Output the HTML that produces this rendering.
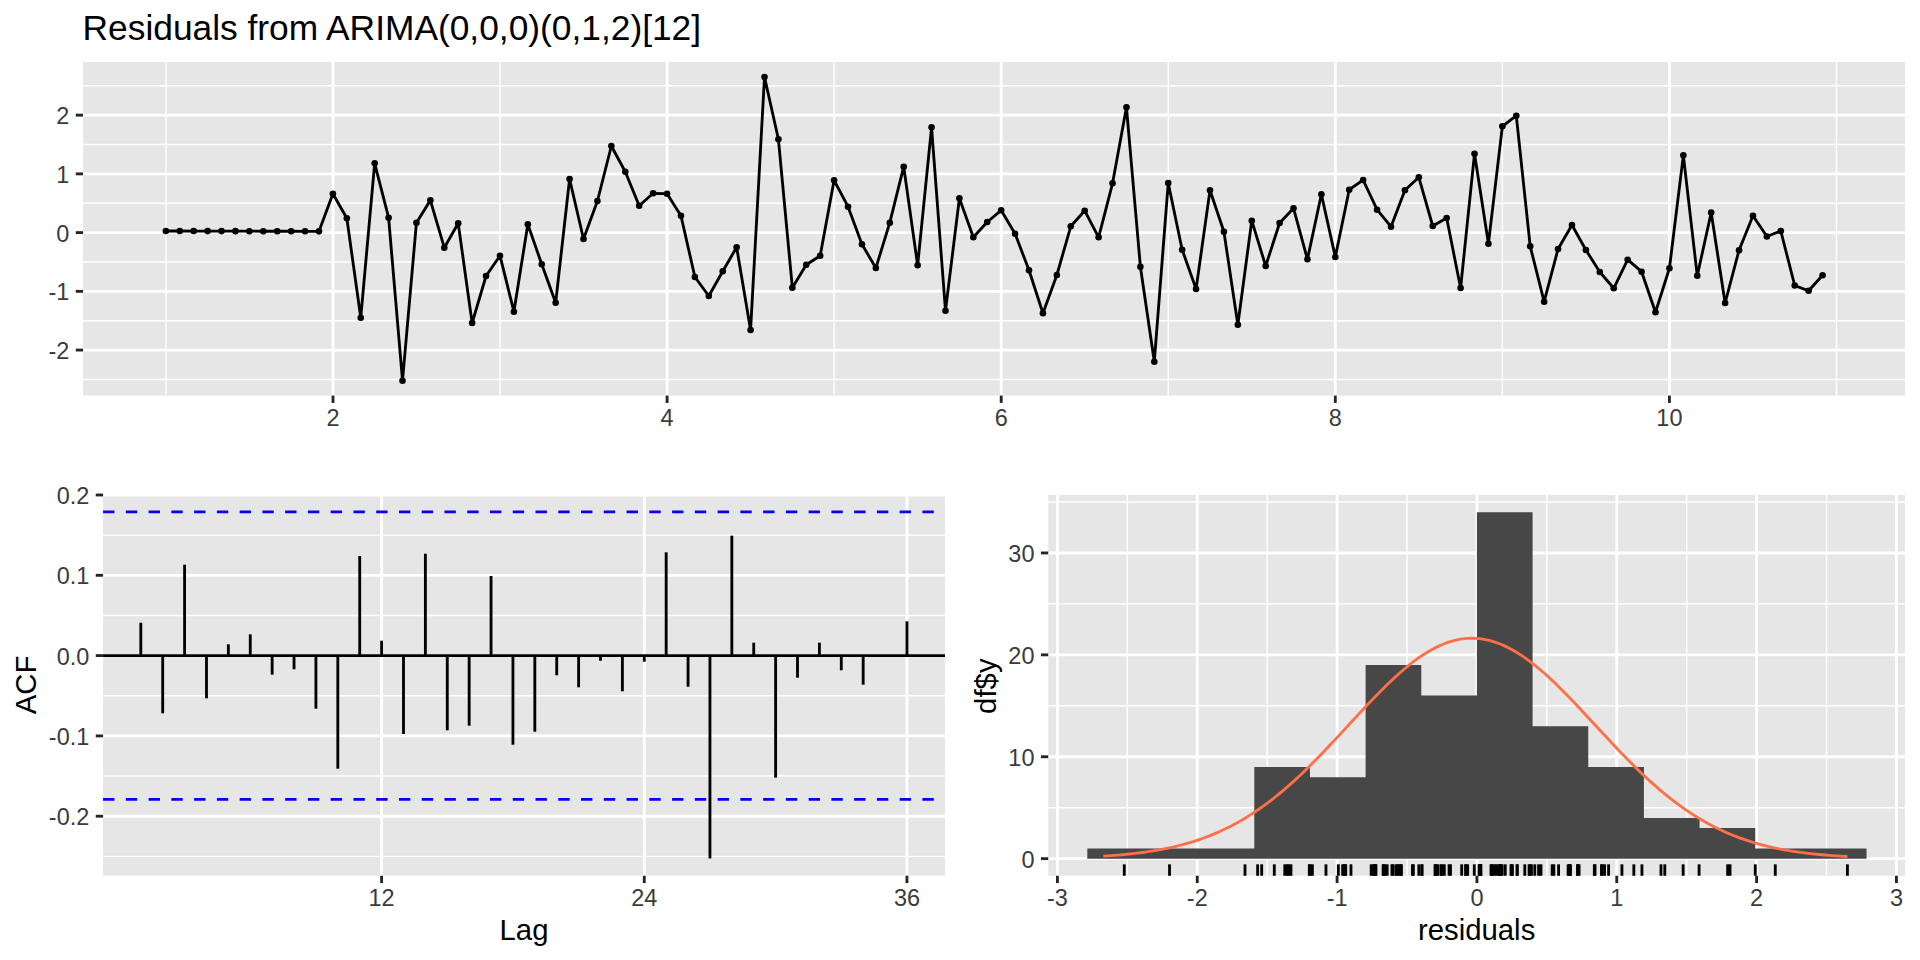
<!DOCTYPE html>
<html lang="en"><head><meta charset="utf-8"><title>Residuals from ARIMA(0,0,0)(0,1,2)[12]</title>
<style>html,body{margin:0;padding:0;background:#fff;overflow:hidden}svg{display:block}text{font-family:"Liberation Sans", Arial, Helvetica, sans-serif;}</style>
</head><body>
<svg width="1920" height="960" viewBox="0 0 1920 960" font-family='"Liberation Sans", Arial, Helvetica, sans-serif'>
<rect width="1920" height="960" fill="#fff"/>
<text x="82.6" y="40.3" font-size="35.35" fill="#000">Residuals from ARIMA(0,0,0)(0,1,2)[12]</text>
<g>
<rect x="83.08" y="62.00" width="1821.92" height="333.60" fill="#E6E6E6"/>
<line x1="83.08" x2="1905.00" y1="379.42" y2="379.42" stroke="#fff" stroke-width="1.42"/>
<line x1="83.08" x2="1905.00" y1="320.69" y2="320.69" stroke="#fff" stroke-width="1.42"/>
<line x1="83.08" x2="1905.00" y1="261.96" y2="261.96" stroke="#fff" stroke-width="1.42"/>
<line x1="83.08" x2="1905.00" y1="203.23" y2="203.23" stroke="#fff" stroke-width="1.42"/>
<line x1="83.08" x2="1905.00" y1="144.50" y2="144.50" stroke="#fff" stroke-width="1.42"/>
<line x1="83.08" x2="1905.00" y1="85.78" y2="85.78" stroke="#fff" stroke-width="1.42"/>
<line x1="165.95" x2="165.95" y1="62.00" y2="395.60" stroke="#fff" stroke-width="1.42"/>
<line x1="500.05" x2="500.05" y1="62.00" y2="395.60" stroke="#fff" stroke-width="1.42"/>
<line x1="834.15" x2="834.15" y1="62.00" y2="395.60" stroke="#fff" stroke-width="1.42"/>
<line x1="1168.25" x2="1168.25" y1="62.00" y2="395.60" stroke="#fff" stroke-width="1.42"/>
<line x1="1502.35" x2="1502.35" y1="62.00" y2="395.60" stroke="#fff" stroke-width="1.42"/>
<line x1="1836.45" x2="1836.45" y1="62.00" y2="395.60" stroke="#fff" stroke-width="1.42"/>
<line x1="83.08" x2="1905.00" y1="350.06" y2="350.06" stroke="#fff" stroke-width="2.85"/>
<line x1="83.08" x2="1905.00" y1="291.33" y2="291.33" stroke="#fff" stroke-width="2.85"/>
<line x1="83.08" x2="1905.00" y1="232.60" y2="232.60" stroke="#fff" stroke-width="2.85"/>
<line x1="83.08" x2="1905.00" y1="173.87" y2="173.87" stroke="#fff" stroke-width="2.85"/>
<line x1="83.08" x2="1905.00" y1="115.14" y2="115.14" stroke="#fff" stroke-width="2.85"/>
<line x1="333.00" x2="333.00" y1="62.00" y2="395.60" stroke="#fff" stroke-width="2.85"/>
<line x1="667.10" x2="667.10" y1="62.00" y2="395.60" stroke="#fff" stroke-width="2.85"/>
<line x1="1001.20" x2="1001.20" y1="62.00" y2="395.60" stroke="#fff" stroke-width="2.85"/>
<line x1="1335.30" x2="1335.30" y1="62.00" y2="395.60" stroke="#fff" stroke-width="2.85"/>
<line x1="1669.40" x2="1669.40" y1="62.00" y2="395.60" stroke="#fff" stroke-width="2.85"/>
<polyline points="165.85,231.00 179.77,231.03 193.69,231.06 207.62,231.09 221.54,231.12 235.46,231.15 249.38,231.18 263.30,231.21 277.23,231.24 291.15,231.27 305.07,231.30 318.99,231.33 332.91,193.70 346.84,218.30 360.76,317.70 374.68,163.30 388.60,217.70 402.52,380.70 416.45,222.70 430.37,200.30 444.29,247.70 458.21,223.30 472.13,323.00 486.06,276.00 499.98,255.70 513.90,311.70 527.82,224.30 541.74,264.30 555.67,302.70 569.59,179.00 583.51,239.00 597.43,201.00 611.35,146.00 625.28,171.70 639.20,205.70 653.12,193.30 667.04,193.70 680.96,215.70 694.89,277.00 708.81,296.00 722.73,271.30 736.65,247.30 750.57,330.00 764.50,77.00 778.42,139.30 792.34,287.70 806.26,264.70 820.18,255.70 834.11,180.30 848.03,206.70 861.95,244.30 875.87,268.00 889.79,222.70 903.72,166.70 917.64,265.30 931.56,127.30 945.48,310.70 959.40,198.30 973.33,237.30 987.25,222.00 1001.17,210.30 1015.09,233.70 1029.01,270.30 1042.94,313.30 1056.86,275.00 1070.78,226.30 1084.70,210.70 1098.62,237.30 1112.55,183.30 1126.47,107.30 1140.39,266.70 1154.31,361.70 1168.23,183.00 1182.16,249.70 1196.08,289.00 1210.00,190.30 1223.92,231.70 1237.84,324.70 1251.77,220.70 1265.69,266.00 1279.61,223.00 1293.53,208.30 1307.45,259.30 1321.38,194.30 1335.30,257.00 1349.22,189.70 1363.14,180.00 1377.06,209.70 1390.99,226.70 1404.91,190.30 1418.83,177.30 1432.75,226.00 1446.67,218.00 1460.60,288.00 1474.52,153.70 1488.44,243.70 1502.36,126.30 1516.28,115.70 1530.21,246.30 1544.13,301.70 1558.05,249.00 1571.97,225.00 1585.89,250.00 1599.82,272.00 1613.74,288.30 1627.66,259.70 1641.58,271.70 1655.50,312.30 1669.43,268.30 1683.35,155.30 1697.27,275.80 1711.19,212.50 1725.11,303.00 1739.04,250.20 1752.96,215.70 1766.88,236.50 1780.80,231.00 1794.72,285.50 1808.65,290.80 1822.57,275.30" fill="none" stroke="#000" stroke-width="2.85" stroke-linejoin="round" stroke-linecap="butt"/>
<circle cx="165.85" cy="231.00" r="3.3" fill="#000"/>
<circle cx="179.77" cy="231.03" r="3.3" fill="#000"/>
<circle cx="193.69" cy="231.06" r="3.3" fill="#000"/>
<circle cx="207.62" cy="231.09" r="3.3" fill="#000"/>
<circle cx="221.54" cy="231.12" r="3.3" fill="#000"/>
<circle cx="235.46" cy="231.15" r="3.3" fill="#000"/>
<circle cx="249.38" cy="231.18" r="3.3" fill="#000"/>
<circle cx="263.30" cy="231.21" r="3.3" fill="#000"/>
<circle cx="277.23" cy="231.24" r="3.3" fill="#000"/>
<circle cx="291.15" cy="231.27" r="3.3" fill="#000"/>
<circle cx="305.07" cy="231.30" r="3.3" fill="#000"/>
<circle cx="318.99" cy="231.33" r="3.3" fill="#000"/>
<circle cx="332.91" cy="193.70" r="3.3" fill="#000"/>
<circle cx="346.84" cy="218.30" r="3.3" fill="#000"/>
<circle cx="360.76" cy="317.70" r="3.3" fill="#000"/>
<circle cx="374.68" cy="163.30" r="3.3" fill="#000"/>
<circle cx="388.60" cy="217.70" r="3.3" fill="#000"/>
<circle cx="402.52" cy="380.70" r="3.3" fill="#000"/>
<circle cx="416.45" cy="222.70" r="3.3" fill="#000"/>
<circle cx="430.37" cy="200.30" r="3.3" fill="#000"/>
<circle cx="444.29" cy="247.70" r="3.3" fill="#000"/>
<circle cx="458.21" cy="223.30" r="3.3" fill="#000"/>
<circle cx="472.13" cy="323.00" r="3.3" fill="#000"/>
<circle cx="486.06" cy="276.00" r="3.3" fill="#000"/>
<circle cx="499.98" cy="255.70" r="3.3" fill="#000"/>
<circle cx="513.90" cy="311.70" r="3.3" fill="#000"/>
<circle cx="527.82" cy="224.30" r="3.3" fill="#000"/>
<circle cx="541.74" cy="264.30" r="3.3" fill="#000"/>
<circle cx="555.67" cy="302.70" r="3.3" fill="#000"/>
<circle cx="569.59" cy="179.00" r="3.3" fill="#000"/>
<circle cx="583.51" cy="239.00" r="3.3" fill="#000"/>
<circle cx="597.43" cy="201.00" r="3.3" fill="#000"/>
<circle cx="611.35" cy="146.00" r="3.3" fill="#000"/>
<circle cx="625.28" cy="171.70" r="3.3" fill="#000"/>
<circle cx="639.20" cy="205.70" r="3.3" fill="#000"/>
<circle cx="653.12" cy="193.30" r="3.3" fill="#000"/>
<circle cx="667.04" cy="193.70" r="3.3" fill="#000"/>
<circle cx="680.96" cy="215.70" r="3.3" fill="#000"/>
<circle cx="694.89" cy="277.00" r="3.3" fill="#000"/>
<circle cx="708.81" cy="296.00" r="3.3" fill="#000"/>
<circle cx="722.73" cy="271.30" r="3.3" fill="#000"/>
<circle cx="736.65" cy="247.30" r="3.3" fill="#000"/>
<circle cx="750.57" cy="330.00" r="3.3" fill="#000"/>
<circle cx="764.50" cy="77.00" r="3.3" fill="#000"/>
<circle cx="778.42" cy="139.30" r="3.3" fill="#000"/>
<circle cx="792.34" cy="287.70" r="3.3" fill="#000"/>
<circle cx="806.26" cy="264.70" r="3.3" fill="#000"/>
<circle cx="820.18" cy="255.70" r="3.3" fill="#000"/>
<circle cx="834.11" cy="180.30" r="3.3" fill="#000"/>
<circle cx="848.03" cy="206.70" r="3.3" fill="#000"/>
<circle cx="861.95" cy="244.30" r="3.3" fill="#000"/>
<circle cx="875.87" cy="268.00" r="3.3" fill="#000"/>
<circle cx="889.79" cy="222.70" r="3.3" fill="#000"/>
<circle cx="903.72" cy="166.70" r="3.3" fill="#000"/>
<circle cx="917.64" cy="265.30" r="3.3" fill="#000"/>
<circle cx="931.56" cy="127.30" r="3.3" fill="#000"/>
<circle cx="945.48" cy="310.70" r="3.3" fill="#000"/>
<circle cx="959.40" cy="198.30" r="3.3" fill="#000"/>
<circle cx="973.33" cy="237.30" r="3.3" fill="#000"/>
<circle cx="987.25" cy="222.00" r="3.3" fill="#000"/>
<circle cx="1001.17" cy="210.30" r="3.3" fill="#000"/>
<circle cx="1015.09" cy="233.70" r="3.3" fill="#000"/>
<circle cx="1029.01" cy="270.30" r="3.3" fill="#000"/>
<circle cx="1042.94" cy="313.30" r="3.3" fill="#000"/>
<circle cx="1056.86" cy="275.00" r="3.3" fill="#000"/>
<circle cx="1070.78" cy="226.30" r="3.3" fill="#000"/>
<circle cx="1084.70" cy="210.70" r="3.3" fill="#000"/>
<circle cx="1098.62" cy="237.30" r="3.3" fill="#000"/>
<circle cx="1112.55" cy="183.30" r="3.3" fill="#000"/>
<circle cx="1126.47" cy="107.30" r="3.3" fill="#000"/>
<circle cx="1140.39" cy="266.70" r="3.3" fill="#000"/>
<circle cx="1154.31" cy="361.70" r="3.3" fill="#000"/>
<circle cx="1168.23" cy="183.00" r="3.3" fill="#000"/>
<circle cx="1182.16" cy="249.70" r="3.3" fill="#000"/>
<circle cx="1196.08" cy="289.00" r="3.3" fill="#000"/>
<circle cx="1210.00" cy="190.30" r="3.3" fill="#000"/>
<circle cx="1223.92" cy="231.70" r="3.3" fill="#000"/>
<circle cx="1237.84" cy="324.70" r="3.3" fill="#000"/>
<circle cx="1251.77" cy="220.70" r="3.3" fill="#000"/>
<circle cx="1265.69" cy="266.00" r="3.3" fill="#000"/>
<circle cx="1279.61" cy="223.00" r="3.3" fill="#000"/>
<circle cx="1293.53" cy="208.30" r="3.3" fill="#000"/>
<circle cx="1307.45" cy="259.30" r="3.3" fill="#000"/>
<circle cx="1321.38" cy="194.30" r="3.3" fill="#000"/>
<circle cx="1335.30" cy="257.00" r="3.3" fill="#000"/>
<circle cx="1349.22" cy="189.70" r="3.3" fill="#000"/>
<circle cx="1363.14" cy="180.00" r="3.3" fill="#000"/>
<circle cx="1377.06" cy="209.70" r="3.3" fill="#000"/>
<circle cx="1390.99" cy="226.70" r="3.3" fill="#000"/>
<circle cx="1404.91" cy="190.30" r="3.3" fill="#000"/>
<circle cx="1418.83" cy="177.30" r="3.3" fill="#000"/>
<circle cx="1432.75" cy="226.00" r="3.3" fill="#000"/>
<circle cx="1446.67" cy="218.00" r="3.3" fill="#000"/>
<circle cx="1460.60" cy="288.00" r="3.3" fill="#000"/>
<circle cx="1474.52" cy="153.70" r="3.3" fill="#000"/>
<circle cx="1488.44" cy="243.70" r="3.3" fill="#000"/>
<circle cx="1502.36" cy="126.30" r="3.3" fill="#000"/>
<circle cx="1516.28" cy="115.70" r="3.3" fill="#000"/>
<circle cx="1530.21" cy="246.30" r="3.3" fill="#000"/>
<circle cx="1544.13" cy="301.70" r="3.3" fill="#000"/>
<circle cx="1558.05" cy="249.00" r="3.3" fill="#000"/>
<circle cx="1571.97" cy="225.00" r="3.3" fill="#000"/>
<circle cx="1585.89" cy="250.00" r="3.3" fill="#000"/>
<circle cx="1599.82" cy="272.00" r="3.3" fill="#000"/>
<circle cx="1613.74" cy="288.30" r="3.3" fill="#000"/>
<circle cx="1627.66" cy="259.70" r="3.3" fill="#000"/>
<circle cx="1641.58" cy="271.70" r="3.3" fill="#000"/>
<circle cx="1655.50" cy="312.30" r="3.3" fill="#000"/>
<circle cx="1669.43" cy="268.30" r="3.3" fill="#000"/>
<circle cx="1683.35" cy="155.30" r="3.3" fill="#000"/>
<circle cx="1697.27" cy="275.80" r="3.3" fill="#000"/>
<circle cx="1711.19" cy="212.50" r="3.3" fill="#000"/>
<circle cx="1725.11" cy="303.00" r="3.3" fill="#000"/>
<circle cx="1739.04" cy="250.20" r="3.3" fill="#000"/>
<circle cx="1752.96" cy="215.70" r="3.3" fill="#000"/>
<circle cx="1766.88" cy="236.50" r="3.3" fill="#000"/>
<circle cx="1780.80" cy="231.00" r="3.3" fill="#000"/>
<circle cx="1794.72" cy="285.50" r="3.3" fill="#000"/>
<circle cx="1808.65" cy="290.80" r="3.3" fill="#000"/>
<circle cx="1822.57" cy="275.30" r="3.3" fill="#000"/>
<line x1="75.75" x2="83.08" y1="350.06" y2="350.06" stroke="#242424" stroke-width="2.85"/>
<text x="69.30" y="359" text-anchor="end" font-size="23.47" fill="#3B3B3B">-2</text>
<line x1="75.75" x2="83.08" y1="291.33" y2="291.33" stroke="#242424" stroke-width="2.85"/>
<text x="69.30" y="300" text-anchor="end" font-size="23.47" fill="#3B3B3B">-1</text>
<line x1="75.75" x2="83.08" y1="232.60" y2="232.60" stroke="#242424" stroke-width="2.85"/>
<text x="69.30" y="242" text-anchor="end" font-size="23.47" fill="#3B3B3B">0</text>
<line x1="75.75" x2="83.08" y1="173.87" y2="173.87" stroke="#242424" stroke-width="2.85"/>
<text x="69.30" y="183" text-anchor="end" font-size="23.47" fill="#3B3B3B">1</text>
<line x1="75.75" x2="83.08" y1="115.14" y2="115.14" stroke="#242424" stroke-width="2.85"/>
<text x="69.30" y="124" text-anchor="end" font-size="23.47" fill="#3B3B3B">2</text>
<line x1="333.00" x2="333.00" y1="395.60" y2="402.93" stroke="#242424" stroke-width="2.85"/>
<text x="333.00" y="426" text-anchor="middle" font-size="23.47" fill="#3B3B3B">2</text>
<line x1="667.10" x2="667.10" y1="395.60" y2="402.93" stroke="#242424" stroke-width="2.85"/>
<text x="667.10" y="426" text-anchor="middle" font-size="23.47" fill="#3B3B3B">4</text>
<line x1="1001.20" x2="1001.20" y1="395.60" y2="402.93" stroke="#242424" stroke-width="2.85"/>
<text x="1001.20" y="426" text-anchor="middle" font-size="23.47" fill="#3B3B3B">6</text>
<line x1="1335.30" x2="1335.30" y1="395.60" y2="402.93" stroke="#242424" stroke-width="2.85"/>
<text x="1335.30" y="426" text-anchor="middle" font-size="23.47" fill="#3B3B3B">8</text>
<line x1="1669.40" x2="1669.40" y1="395.60" y2="402.93" stroke="#242424" stroke-width="2.85"/>
<text x="1669.40" y="426" text-anchor="middle" font-size="23.47" fill="#3B3B3B">10</text>
</g>
<g>
<rect x="103.08" y="495.00" width="841.92" height="380.75" fill="#E6E6E6"/>
<line x1="103.08" x2="945.00" y1="856.35" y2="856.35" stroke="#fff" stroke-width="1.42"/>
<line x1="103.08" x2="945.00" y1="776.05" y2="776.05" stroke="#fff" stroke-width="1.42"/>
<line x1="103.08" x2="945.00" y1="695.75" y2="695.75" stroke="#fff" stroke-width="1.42"/>
<line x1="103.08" x2="945.00" y1="615.45" y2="615.45" stroke="#fff" stroke-width="1.42"/>
<line x1="103.08" x2="945.00" y1="535.15" y2="535.15" stroke="#fff" stroke-width="1.42"/>
<line x1="103.08" x2="945.00" y1="816.20" y2="816.20" stroke="#fff" stroke-width="2.85"/>
<line x1="103.08" x2="945.00" y1="735.90" y2="735.90" stroke="#fff" stroke-width="2.85"/>
<line x1="103.08" x2="945.00" y1="655.60" y2="655.60" stroke="#fff" stroke-width="2.85"/>
<line x1="103.08" x2="945.00" y1="575.30" y2="575.30" stroke="#fff" stroke-width="2.85"/>
<line x1="103.08" x2="945.00" y1="495.00" y2="495.00" stroke="#fff" stroke-width="2.85"/>
<line x1="381.60" x2="381.60" y1="495.00" y2="875.75" stroke="#fff" stroke-width="2.85"/>
<line x1="644.28" x2="644.28" y1="495.00" y2="875.75" stroke="#fff" stroke-width="2.85"/>
<line x1="906.96" x2="906.96" y1="495.00" y2="875.75" stroke="#fff" stroke-width="2.85"/>
<line x1="103.08" x2="945.00" y1="655.6" y2="655.6" stroke="#000" stroke-width="2.85"/>
<line x1="140.81" x2="140.81" y1="655.6" y2="622.7" stroke="#000" stroke-width="2.85"/>
<line x1="162.70" x2="162.70" y1="655.6" y2="713.3" stroke="#000" stroke-width="2.85"/>
<line x1="184.59" x2="184.59" y1="655.6" y2="564.7" stroke="#000" stroke-width="2.85"/>
<line x1="206.48" x2="206.48" y1="655.6" y2="698.3" stroke="#000" stroke-width="2.85"/>
<line x1="228.37" x2="228.37" y1="655.6" y2="644.3" stroke="#000" stroke-width="2.85"/>
<line x1="250.26" x2="250.26" y1="655.6" y2="634.3" stroke="#000" stroke-width="2.85"/>
<line x1="272.15" x2="272.15" y1="655.6" y2="674.7" stroke="#000" stroke-width="2.85"/>
<line x1="294.04" x2="294.04" y1="655.6" y2="669.3" stroke="#000" stroke-width="2.85"/>
<line x1="315.93" x2="315.93" y1="655.6" y2="708.7" stroke="#000" stroke-width="2.85"/>
<line x1="337.82" x2="337.82" y1="655.6" y2="768.7" stroke="#000" stroke-width="2.85"/>
<line x1="359.71" x2="359.71" y1="655.6" y2="556.0" stroke="#000" stroke-width="2.85"/>
<line x1="381.60" x2="381.60" y1="655.6" y2="640.7" stroke="#000" stroke-width="2.85"/>
<line x1="403.49" x2="403.49" y1="655.6" y2="734.0" stroke="#000" stroke-width="2.85"/>
<line x1="425.38" x2="425.38" y1="655.6" y2="553.7" stroke="#000" stroke-width="2.85"/>
<line x1="447.27" x2="447.27" y1="655.6" y2="730.3" stroke="#000" stroke-width="2.85"/>
<line x1="469.16" x2="469.16" y1="655.6" y2="725.7" stroke="#000" stroke-width="2.85"/>
<line x1="491.05" x2="491.05" y1="655.6" y2="576.0" stroke="#000" stroke-width="2.85"/>
<line x1="512.94" x2="512.94" y1="655.6" y2="744.7" stroke="#000" stroke-width="2.85"/>
<line x1="534.83" x2="534.83" y1="655.6" y2="731.7" stroke="#000" stroke-width="2.85"/>
<line x1="556.72" x2="556.72" y1="655.6" y2="675.3" stroke="#000" stroke-width="2.85"/>
<line x1="578.61" x2="578.61" y1="655.6" y2="687.3" stroke="#000" stroke-width="2.85"/>
<line x1="600.50" x2="600.50" y1="655.6" y2="660.7" stroke="#000" stroke-width="2.85"/>
<line x1="622.39" x2="622.39" y1="655.6" y2="691.3" stroke="#000" stroke-width="2.85"/>
<line x1="644.28" x2="644.28" y1="655.6" y2="661.7" stroke="#000" stroke-width="2.85"/>
<line x1="666.17" x2="666.17" y1="655.6" y2="552.3" stroke="#000" stroke-width="2.85"/>
<line x1="688.06" x2="688.06" y1="655.6" y2="686.7" stroke="#000" stroke-width="2.85"/>
<line x1="709.95" x2="709.95" y1="655.6" y2="858.4" stroke="#000" stroke-width="2.85"/>
<line x1="731.84" x2="731.84" y1="655.6" y2="535.7" stroke="#000" stroke-width="2.85"/>
<line x1="753.73" x2="753.73" y1="655.6" y2="642.7" stroke="#000" stroke-width="2.85"/>
<line x1="775.62" x2="775.62" y1="655.6" y2="777.6" stroke="#000" stroke-width="2.85"/>
<line x1="797.51" x2="797.51" y1="655.6" y2="677.7" stroke="#000" stroke-width="2.85"/>
<line x1="819.40" x2="819.40" y1="655.6" y2="642.7" stroke="#000" stroke-width="2.85"/>
<line x1="841.29" x2="841.29" y1="655.6" y2="670.3" stroke="#000" stroke-width="2.85"/>
<line x1="863.18" x2="863.18" y1="655.6" y2="684.7" stroke="#000" stroke-width="2.85"/>
<line x1="885.07" x2="885.07" y1="655.6" y2="655.6" stroke="#000" stroke-width="2.85"/>
<line x1="906.96" x2="906.96" y1="655.6" y2="621.3" stroke="#000" stroke-width="2.85"/>
<line x1="103.08" x2="945.00" y1="511.93" y2="511.93" stroke="#0000FF" stroke-width="2.85" stroke-dasharray="11.38 11.38"/>
<line x1="103.08" x2="945.00" y1="799.35" y2="799.35" stroke="#0000FF" stroke-width="2.85" stroke-dasharray="11.38 11.38"/>
<line x1="95.75" x2="103.08" y1="495.00" y2="495.00" stroke="#242424" stroke-width="2.85"/>
<text x="89.30" y="504" text-anchor="end" font-size="23.47" fill="#3B3B3B">0.2</text>
<line x1="95.75" x2="103.08" y1="575.30" y2="575.30" stroke="#242424" stroke-width="2.85"/>
<text x="89.30" y="584" text-anchor="end" font-size="23.47" fill="#3B3B3B">0.1</text>
<line x1="95.75" x2="103.08" y1="655.60" y2="655.60" stroke="#242424" stroke-width="2.85"/>
<text x="89.30" y="665" text-anchor="end" font-size="23.47" fill="#3B3B3B">0.0</text>
<line x1="95.75" x2="103.08" y1="735.90" y2="735.90" stroke="#242424" stroke-width="2.85"/>
<text x="89.30" y="745" text-anchor="end" font-size="23.47" fill="#3B3B3B">-0.1</text>
<line x1="95.75" x2="103.08" y1="816.20" y2="816.20" stroke="#242424" stroke-width="2.85"/>
<text x="89.30" y="825" text-anchor="end" font-size="23.47" fill="#3B3B3B">-0.2</text>
<line x1="381.60" x2="381.60" y1="875.75" y2="883.08" stroke="#242424" stroke-width="2.85"/>
<text x="381.60" y="906" text-anchor="middle" font-size="23.47" fill="#3B3B3B">12</text>
<line x1="644.28" x2="644.28" y1="875.75" y2="883.08" stroke="#242424" stroke-width="2.85"/>
<text x="644.28" y="906" text-anchor="middle" font-size="23.47" fill="#3B3B3B">24</text>
<line x1="906.96" x2="906.96" y1="875.75" y2="883.08" stroke="#242424" stroke-width="2.85"/>
<text x="906.96" y="906" text-anchor="middle" font-size="23.47" fill="#3B3B3B">36</text>
<text x="524.04" y="940" text-anchor="middle" font-size="29.33" fill="#000">Lag</text>
<text transform="translate(35.7 684.98) rotate(-90)" text-anchor="middle" font-size="29.33" fill="#000">ACF</text>
</g>
<g>
<rect x="1048.25" y="495.00" width="856.75" height="380.75" fill="#E6E6E6"/>
<line x1="1048.25" x2="1905.00" y1="807.70" y2="807.70" stroke="#fff" stroke-width="1.42"/>
<line x1="1048.25" x2="1905.00" y1="705.80" y2="705.80" stroke="#fff" stroke-width="1.42"/>
<line x1="1048.25" x2="1905.00" y1="603.90" y2="603.90" stroke="#fff" stroke-width="1.42"/>
<line x1="1048.25" x2="1905.00" y1="502.00" y2="502.00" stroke="#fff" stroke-width="1.42"/>
<line x1="1127.33" x2="1127.33" y1="495.00" y2="875.75" stroke="#fff" stroke-width="1.42"/>
<line x1="1267.17" x2="1267.17" y1="495.00" y2="875.75" stroke="#fff" stroke-width="1.42"/>
<line x1="1407.01" x2="1407.01" y1="495.00" y2="875.75" stroke="#fff" stroke-width="1.42"/>
<line x1="1546.85" x2="1546.85" y1="495.00" y2="875.75" stroke="#fff" stroke-width="1.42"/>
<line x1="1686.69" x2="1686.69" y1="495.00" y2="875.75" stroke="#fff" stroke-width="1.42"/>
<line x1="1826.53" x2="1826.53" y1="495.00" y2="875.75" stroke="#fff" stroke-width="1.42"/>
<line x1="1048.25" x2="1905.00" y1="858.65" y2="858.65" stroke="#fff" stroke-width="2.85"/>
<line x1="1048.25" x2="1905.00" y1="756.75" y2="756.75" stroke="#fff" stroke-width="2.85"/>
<line x1="1048.25" x2="1905.00" y1="654.85" y2="654.85" stroke="#fff" stroke-width="2.85"/>
<line x1="1048.25" x2="1905.00" y1="552.95" y2="552.95" stroke="#fff" stroke-width="2.85"/>
<line x1="1057.41" x2="1057.41" y1="495.00" y2="875.75" stroke="#fff" stroke-width="2.85"/>
<line x1="1197.25" x2="1197.25" y1="495.00" y2="875.75" stroke="#fff" stroke-width="2.85"/>
<line x1="1337.09" x2="1337.09" y1="495.00" y2="875.75" stroke="#fff" stroke-width="2.85"/>
<line x1="1476.93" x2="1476.93" y1="495.00" y2="875.75" stroke="#fff" stroke-width="2.85"/>
<line x1="1616.77" x2="1616.77" y1="495.00" y2="875.75" stroke="#fff" stroke-width="2.85"/>
<line x1="1756.61" x2="1756.61" y1="495.00" y2="875.75" stroke="#fff" stroke-width="2.85"/>
<line x1="1896.45" x2="1896.45" y1="495.00" y2="875.75" stroke="#fff" stroke-width="2.85"/>
<path d="M1087.31,858.65 L1087.31,848.46 L1142.97,848.46 L1142.97,848.46 L1198.63,848.46 L1198.63,848.46 L1254.29,848.46 L1254.29,766.94 L1309.95,766.94 L1309.95,777.13 L1365.61,777.13 L1365.61,665.04 L1421.27,665.04 L1421.27,695.61 L1476.93,695.61 L1476.93,512.19 L1532.59,512.19 L1532.59,726.18 L1588.25,726.18 L1588.25,766.94 L1643.91,766.94 L1643.91,817.89 L1699.57,817.89 L1699.57,828.08 L1755.23,828.08 L1755.23,848.46 L1810.89,848.46 L1810.89,848.46 L1866.55,848.46 L1866.55,858.65 Z" fill="#474747"/>
<polyline points="1103.28,856.14 1107.00,855.91 1110.72,855.65 1114.44,855.38 1118.16,855.08 1121.88,854.76 1125.60,854.41 1129.32,854.03 1133.04,853.63 1136.76,853.20 1140.48,852.74 1144.21,852.24 1147.93,851.71 1151.65,851.14 1155.37,850.53 1159.09,849.87 1162.81,849.18 1166.53,848.44 1170.25,847.65 1173.97,846.81 1177.69,845.92 1181.41,844.97 1185.13,843.97 1188.85,842.91 1192.58,841.78 1196.30,840.60 1200.02,839.34 1203.74,838.02 1207.46,836.63 1211.18,835.17 1214.90,833.63 1218.62,832.02 1222.34,830.32 1226.06,828.55 1229.78,826.69 1233.50,824.75 1237.22,822.73 1240.94,820.62 1244.67,818.43 1248.39,816.14 1252.11,813.77 1255.83,811.30 1259.55,808.75 1263.27,806.11 1266.99,803.38 1270.71,800.56 1274.43,797.65 1278.15,794.65 1281.87,791.57 1285.59,788.40 1289.31,785.15 1293.03,781.82 1296.76,778.42 1300.48,774.93 1304.20,771.38 1307.92,767.76 1311.64,764.08 1315.36,760.33 1319.08,756.53 1322.80,752.68 1326.52,748.79 1330.24,744.85 1333.96,740.89 1337.68,736.89 1341.40,732.88 1345.13,728.85 1348.85,724.81 1352.57,720.78 1356.29,716.75 1360.01,712.74 1363.73,708.75 1367.45,704.79 1371.17,700.87 1374.89,697.00 1378.61,693.19 1382.33,689.44 1386.05,685.76 1389.77,682.16 1393.49,678.65 1397.22,675.25 1400.94,671.94 1404.66,668.75 1408.38,665.68 1412.10,662.75 1415.82,659.94 1419.54,657.28 1423.26,654.78 1426.98,652.43 1430.70,650.24 1434.42,648.22 1438.14,646.37 1441.86,644.71 1445.58,643.22 1449.31,641.93 1453.03,640.83 1456.75,639.92 1460.47,639.20 1464.19,638.69 1467.91,638.37 1471.63,638.26 1475.35,638.34 1479.07,638.63 1482.79,639.12 1486.51,639.80 1490.23,640.68 1493.95,641.76 1497.68,643.03 1501.40,644.48 1505.12,646.12 1508.84,647.94 1512.56,649.94 1516.28,652.10 1520.00,654.43 1523.72,656.92 1527.44,659.55 1531.16,662.34 1534.88,665.26 1538.60,668.31 1542.32,671.48 1546.04,674.77 1549.77,678.16 1553.49,681.65 1557.21,685.24 1560.93,688.90 1564.65,692.65 1568.37,696.45 1572.09,700.31 1575.81,704.23 1579.53,708.18 1583.25,712.16 1586.97,716.17 1590.69,720.20 1594.41,724.24 1598.13,728.27 1601.86,732.30 1605.58,736.32 1609.30,740.32 1613.02,744.29 1616.74,748.23 1620.46,752.13 1624.18,755.99 1627.90,759.79 1631.62,763.54 1635.34,767.24 1639.06,770.87 1642.78,774.43 1646.50,777.92 1650.23,781.34 1653.95,784.68 1657.67,787.94 1661.39,791.12 1665.11,794.22 1668.83,797.22 1672.55,800.15 1676.27,802.98 1679.99,805.72 1683.71,808.38 1687.43,810.94 1691.15,813.42 1694.87,815.81 1698.59,818.10 1702.32,820.31 1706.04,822.44 1709.76,824.47 1713.48,826.42 1717.20,828.29 1720.92,830.07 1724.64,831.78 1728.36,833.40 1732.08,834.95 1735.80,836.43 1739.52,837.83 1743.24,839.16 1746.96,840.42 1750.68,841.62 1754.41,842.75 1758.13,843.82 1761.85,844.83 1765.57,845.79 1769.29,846.69 1773.01,847.53 1776.73,848.33 1780.45,849.08 1784.17,849.78 1787.89,850.43 1791.61,851.05 1795.33,851.63 1799.05,852.16 1802.78,852.67 1806.50,853.14 1810.22,853.57 1813.94,853.98 1817.66,854.36 1821.38,854.71 1825.10,855.03 1828.82,855.33 1832.54,855.61 1836.26,855.87 1839.98,856.11 1843.70,856.33 1847.42,856.53" fill="none" stroke="#FF7048" stroke-width="2.85" stroke-linejoin="round"/>
<line x1="1480.74" x2="1480.74" y1="864.33" y2="875.75" stroke="#000" stroke-width="2.85"/>
<line x1="1480.67" x2="1480.67" y1="864.33" y2="875.75" stroke="#000" stroke-width="2.85"/>
<line x1="1480.60" x2="1480.60" y1="864.33" y2="875.75" stroke="#000" stroke-width="2.85"/>
<line x1="1480.53" x2="1480.53" y1="864.33" y2="875.75" stroke="#000" stroke-width="2.85"/>
<line x1="1480.45" x2="1480.45" y1="864.33" y2="875.75" stroke="#000" stroke-width="2.85"/>
<line x1="1480.38" x2="1480.38" y1="864.33" y2="875.75" stroke="#000" stroke-width="2.85"/>
<line x1="1480.31" x2="1480.31" y1="864.33" y2="875.75" stroke="#000" stroke-width="2.85"/>
<line x1="1480.24" x2="1480.24" y1="864.33" y2="875.75" stroke="#000" stroke-width="2.85"/>
<line x1="1480.17" x2="1480.17" y1="864.33" y2="875.75" stroke="#000" stroke-width="2.85"/>
<line x1="1480.10" x2="1480.10" y1="864.33" y2="875.75" stroke="#000" stroke-width="2.85"/>
<line x1="1480.03" x2="1480.03" y1="864.33" y2="875.75" stroke="#000" stroke-width="2.85"/>
<line x1="1479.95" x2="1479.95" y1="864.33" y2="875.75" stroke="#000" stroke-width="2.85"/>
<line x1="1569.55" x2="1569.55" y1="864.33" y2="875.75" stroke="#000" stroke-width="2.85"/>
<line x1="1510.98" x2="1510.98" y1="864.33" y2="875.75" stroke="#000" stroke-width="2.85"/>
<line x1="1274.30" x2="1274.30" y1="864.33" y2="875.75" stroke="#000" stroke-width="2.85"/>
<line x1="1641.94" x2="1641.94" y1="864.33" y2="875.75" stroke="#000" stroke-width="2.85"/>
<line x1="1512.41" x2="1512.41" y1="864.33" y2="875.75" stroke="#000" stroke-width="2.85"/>
<line x1="1124.29" x2="1124.29" y1="864.33" y2="875.75" stroke="#000" stroke-width="2.85"/>
<line x1="1500.50" x2="1500.50" y1="864.33" y2="875.75" stroke="#000" stroke-width="2.85"/>
<line x1="1553.84" x2="1553.84" y1="864.33" y2="875.75" stroke="#000" stroke-width="2.85"/>
<line x1="1440.98" x2="1440.98" y1="864.33" y2="875.75" stroke="#000" stroke-width="2.85"/>
<line x1="1499.07" x2="1499.07" y1="864.33" y2="875.75" stroke="#000" stroke-width="2.85"/>
<line x1="1261.68" x2="1261.68" y1="864.33" y2="875.75" stroke="#000" stroke-width="2.85"/>
<line x1="1373.59" x2="1373.59" y1="864.33" y2="875.75" stroke="#000" stroke-width="2.85"/>
<line x1="1421.93" x2="1421.93" y1="864.33" y2="875.75" stroke="#000" stroke-width="2.85"/>
<line x1="1288.59" x2="1288.59" y1="864.33" y2="875.75" stroke="#000" stroke-width="2.85"/>
<line x1="1496.69" x2="1496.69" y1="864.33" y2="875.75" stroke="#000" stroke-width="2.85"/>
<line x1="1401.45" x2="1401.45" y1="864.33" y2="875.75" stroke="#000" stroke-width="2.85"/>
<line x1="1310.02" x2="1310.02" y1="864.33" y2="875.75" stroke="#000" stroke-width="2.85"/>
<line x1="1604.56" x2="1604.56" y1="864.33" y2="875.75" stroke="#000" stroke-width="2.85"/>
<line x1="1461.69" x2="1461.69" y1="864.33" y2="875.75" stroke="#000" stroke-width="2.85"/>
<line x1="1552.17" x2="1552.17" y1="864.33" y2="875.75" stroke="#000" stroke-width="2.85"/>
<line x1="1683.13" x2="1683.13" y1="864.33" y2="875.75" stroke="#000" stroke-width="2.85"/>
<line x1="1621.94" x2="1621.94" y1="864.33" y2="875.75" stroke="#000" stroke-width="2.85"/>
<line x1="1540.98" x2="1540.98" y1="864.33" y2="875.75" stroke="#000" stroke-width="2.85"/>
<line x1="1570.51" x2="1570.51" y1="864.33" y2="875.75" stroke="#000" stroke-width="2.85"/>
<line x1="1569.55" x2="1569.55" y1="864.33" y2="875.75" stroke="#000" stroke-width="2.85"/>
<line x1="1517.17" x2="1517.17" y1="864.33" y2="875.75" stroke="#000" stroke-width="2.85"/>
<line x1="1371.21" x2="1371.21" y1="864.33" y2="875.75" stroke="#000" stroke-width="2.85"/>
<line x1="1325.97" x2="1325.97" y1="864.33" y2="875.75" stroke="#000" stroke-width="2.85"/>
<line x1="1384.78" x2="1384.78" y1="864.33" y2="875.75" stroke="#000" stroke-width="2.85"/>
<line x1="1441.93" x2="1441.93" y1="864.33" y2="875.75" stroke="#000" stroke-width="2.85"/>
<line x1="1245.01" x2="1245.01" y1="864.33" y2="875.75" stroke="#000" stroke-width="2.85"/>
<line x1="1847.42" x2="1847.42" y1="864.33" y2="875.75" stroke="#000" stroke-width="2.85"/>
<line x1="1699.08" x2="1699.08" y1="864.33" y2="875.75" stroke="#000" stroke-width="2.85"/>
<line x1="1345.73" x2="1345.73" y1="864.33" y2="875.75" stroke="#000" stroke-width="2.85"/>
<line x1="1400.50" x2="1400.50" y1="864.33" y2="875.75" stroke="#000" stroke-width="2.85"/>
<line x1="1421.93" x2="1421.93" y1="864.33" y2="875.75" stroke="#000" stroke-width="2.85"/>
<line x1="1601.46" x2="1601.46" y1="864.33" y2="875.75" stroke="#000" stroke-width="2.85"/>
<line x1="1538.60" x2="1538.60" y1="864.33" y2="875.75" stroke="#000" stroke-width="2.85"/>
<line x1="1449.07" x2="1449.07" y1="864.33" y2="875.75" stroke="#000" stroke-width="2.85"/>
<line x1="1392.64" x2="1392.64" y1="864.33" y2="875.75" stroke="#000" stroke-width="2.85"/>
<line x1="1500.50" x2="1500.50" y1="864.33" y2="875.75" stroke="#000" stroke-width="2.85"/>
<line x1="1633.84" x2="1633.84" y1="864.33" y2="875.75" stroke="#000" stroke-width="2.85"/>
<line x1="1399.07" x2="1399.07" y1="864.33" y2="875.75" stroke="#000" stroke-width="2.85"/>
<line x1="1727.66" x2="1727.66" y1="864.33" y2="875.75" stroke="#000" stroke-width="2.85"/>
<line x1="1290.97" x2="1290.97" y1="864.33" y2="875.75" stroke="#000" stroke-width="2.85"/>
<line x1="1558.60" x2="1558.60" y1="864.33" y2="875.75" stroke="#000" stroke-width="2.85"/>
<line x1="1465.74" x2="1465.74" y1="864.33" y2="875.75" stroke="#000" stroke-width="2.85"/>
<line x1="1502.17" x2="1502.17" y1="864.33" y2="875.75" stroke="#000" stroke-width="2.85"/>
<line x1="1530.03" x2="1530.03" y1="864.33" y2="875.75" stroke="#000" stroke-width="2.85"/>
<line x1="1474.31" x2="1474.31" y1="864.33" y2="875.75" stroke="#000" stroke-width="2.85"/>
<line x1="1387.16" x2="1387.16" y1="864.33" y2="875.75" stroke="#000" stroke-width="2.85"/>
<line x1="1284.78" x2="1284.78" y1="864.33" y2="875.75" stroke="#000" stroke-width="2.85"/>
<line x1="1375.97" x2="1375.97" y1="864.33" y2="875.75" stroke="#000" stroke-width="2.85"/>
<line x1="1491.93" x2="1491.93" y1="864.33" y2="875.75" stroke="#000" stroke-width="2.85"/>
<line x1="1529.08" x2="1529.08" y1="864.33" y2="875.75" stroke="#000" stroke-width="2.85"/>
<line x1="1465.74" x2="1465.74" y1="864.33" y2="875.75" stroke="#000" stroke-width="2.85"/>
<line x1="1594.32" x2="1594.32" y1="864.33" y2="875.75" stroke="#000" stroke-width="2.85"/>
<line x1="1775.28" x2="1775.28" y1="864.33" y2="875.75" stroke="#000" stroke-width="2.85"/>
<line x1="1395.74" x2="1395.74" y1="864.33" y2="875.75" stroke="#000" stroke-width="2.85"/>
<line x1="1169.53" x2="1169.53" y1="864.33" y2="875.75" stroke="#000" stroke-width="2.85"/>
<line x1="1595.03" x2="1595.03" y1="864.33" y2="875.75" stroke="#000" stroke-width="2.85"/>
<line x1="1436.21" x2="1436.21" y1="864.33" y2="875.75" stroke="#000" stroke-width="2.85"/>
<line x1="1342.64" x2="1342.64" y1="864.33" y2="875.75" stroke="#000" stroke-width="2.85"/>
<line x1="1577.65" x2="1577.65" y1="864.33" y2="875.75" stroke="#000" stroke-width="2.85"/>
<line x1="1479.07" x2="1479.07" y1="864.33" y2="875.75" stroke="#000" stroke-width="2.85"/>
<line x1="1257.63" x2="1257.63" y1="864.33" y2="875.75" stroke="#000" stroke-width="2.85"/>
<line x1="1505.26" x2="1505.26" y1="864.33" y2="875.75" stroke="#000" stroke-width="2.85"/>
<line x1="1397.40" x2="1397.40" y1="864.33" y2="875.75" stroke="#000" stroke-width="2.85"/>
<line x1="1499.79" x2="1499.79" y1="864.33" y2="875.75" stroke="#000" stroke-width="2.85"/>
<line x1="1534.79" x2="1534.79" y1="864.33" y2="875.75" stroke="#000" stroke-width="2.85"/>
<line x1="1413.36" x2="1413.36" y1="864.33" y2="875.75" stroke="#000" stroke-width="2.85"/>
<line x1="1568.12" x2="1568.12" y1="864.33" y2="875.75" stroke="#000" stroke-width="2.85"/>
<line x1="1418.83" x2="1418.83" y1="864.33" y2="875.75" stroke="#000" stroke-width="2.85"/>
<line x1="1579.08" x2="1579.08" y1="864.33" y2="875.75" stroke="#000" stroke-width="2.85"/>
<line x1="1602.17" x2="1602.17" y1="864.33" y2="875.75" stroke="#000" stroke-width="2.85"/>
<line x1="1531.46" x2="1531.46" y1="864.33" y2="875.75" stroke="#000" stroke-width="2.85"/>
<line x1="1490.98" x2="1490.98" y1="864.33" y2="875.75" stroke="#000" stroke-width="2.85"/>
<line x1="1577.65" x2="1577.65" y1="864.33" y2="875.75" stroke="#000" stroke-width="2.85"/>
<line x1="1608.60" x2="1608.60" y1="864.33" y2="875.75" stroke="#000" stroke-width="2.85"/>
<line x1="1492.65" x2="1492.65" y1="864.33" y2="875.75" stroke="#000" stroke-width="2.85"/>
<line x1="1511.69" x2="1511.69" y1="864.33" y2="875.75" stroke="#000" stroke-width="2.85"/>
<line x1="1345.02" x2="1345.02" y1="864.33" y2="875.75" stroke="#000" stroke-width="2.85"/>
<line x1="1664.80" x2="1664.80" y1="864.33" y2="875.75" stroke="#000" stroke-width="2.85"/>
<line x1="1450.50" x2="1450.50" y1="864.33" y2="875.75" stroke="#000" stroke-width="2.85"/>
<line x1="1730.04" x2="1730.04" y1="864.33" y2="875.75" stroke="#000" stroke-width="2.85"/>
<line x1="1755.28" x2="1755.28" y1="864.33" y2="875.75" stroke="#000" stroke-width="2.85"/>
<line x1="1444.31" x2="1444.31" y1="864.33" y2="875.75" stroke="#000" stroke-width="2.85"/>
<line x1="1312.40" x2="1312.40" y1="864.33" y2="875.75" stroke="#000" stroke-width="2.85"/>
<line x1="1437.88" x2="1437.88" y1="864.33" y2="875.75" stroke="#000" stroke-width="2.85"/>
<line x1="1495.03" x2="1495.03" y1="864.33" y2="875.75" stroke="#000" stroke-width="2.85"/>
<line x1="1435.50" x2="1435.50" y1="864.33" y2="875.75" stroke="#000" stroke-width="2.85"/>
<line x1="1383.12" x2="1383.12" y1="864.33" y2="875.75" stroke="#000" stroke-width="2.85"/>
<line x1="1344.30" x2="1344.30" y1="864.33" y2="875.75" stroke="#000" stroke-width="2.85"/>
<line x1="1412.40" x2="1412.40" y1="864.33" y2="875.75" stroke="#000" stroke-width="2.85"/>
<line x1="1383.83" x2="1383.83" y1="864.33" y2="875.75" stroke="#000" stroke-width="2.85"/>
<line x1="1287.16" x2="1287.16" y1="864.33" y2="875.75" stroke="#000" stroke-width="2.85"/>
<line x1="1391.93" x2="1391.93" y1="864.33" y2="875.75" stroke="#000" stroke-width="2.85"/>
<line x1="1660.99" x2="1660.99" y1="864.33" y2="875.75" stroke="#000" stroke-width="2.85"/>
<line x1="1374.07" x2="1374.07" y1="864.33" y2="875.75" stroke="#000" stroke-width="2.85"/>
<line x1="1524.79" x2="1524.79" y1="864.33" y2="875.75" stroke="#000" stroke-width="2.85"/>
<line x1="1309.30" x2="1309.30" y1="864.33" y2="875.75" stroke="#000" stroke-width="2.85"/>
<line x1="1435.02" x2="1435.02" y1="864.33" y2="875.75" stroke="#000" stroke-width="2.85"/>
<line x1="1517.17" x2="1517.17" y1="864.33" y2="875.75" stroke="#000" stroke-width="2.85"/>
<line x1="1467.64" x2="1467.64" y1="864.33" y2="875.75" stroke="#000" stroke-width="2.85"/>
<line x1="1480.74" x2="1480.74" y1="864.33" y2="875.75" stroke="#000" stroke-width="2.85"/>
<line x1="1350.97" x2="1350.97" y1="864.33" y2="875.75" stroke="#000" stroke-width="2.85"/>
<line x1="1338.35" x2="1338.35" y1="864.33" y2="875.75" stroke="#000" stroke-width="2.85"/>
<line x1="1375.26" x2="1375.26" y1="864.33" y2="875.75" stroke="#000" stroke-width="2.85"/>
<line x1="1040.92" x2="1048.25" y1="858.65" y2="858.65" stroke="#242424" stroke-width="2.85"/>
<text x="1034.47" y="868" text-anchor="end" font-size="23.47" fill="#3B3B3B">0</text>
<line x1="1040.92" x2="1048.25" y1="756.75" y2="756.75" stroke="#242424" stroke-width="2.85"/>
<text x="1034.47" y="766" text-anchor="end" font-size="23.47" fill="#3B3B3B">10</text>
<line x1="1040.92" x2="1048.25" y1="654.85" y2="654.85" stroke="#242424" stroke-width="2.85"/>
<text x="1034.47" y="664" text-anchor="end" font-size="23.47" fill="#3B3B3B">20</text>
<line x1="1040.92" x2="1048.25" y1="552.95" y2="552.95" stroke="#242424" stroke-width="2.85"/>
<text x="1034.47" y="562" text-anchor="end" font-size="23.47" fill="#3B3B3B">30</text>
<line x1="1057.41" x2="1057.41" y1="875.75" y2="883.08" stroke="#242424" stroke-width="2.85"/>
<text x="1057.41" y="906" text-anchor="middle" font-size="23.47" fill="#3B3B3B">-3</text>
<line x1="1197.25" x2="1197.25" y1="875.75" y2="883.08" stroke="#242424" stroke-width="2.85"/>
<text x="1197.25" y="906" text-anchor="middle" font-size="23.47" fill="#3B3B3B">-2</text>
<line x1="1337.09" x2="1337.09" y1="875.75" y2="883.08" stroke="#242424" stroke-width="2.85"/>
<text x="1337.09" y="906" text-anchor="middle" font-size="23.47" fill="#3B3B3B">-1</text>
<line x1="1476.93" x2="1476.93" y1="875.75" y2="883.08" stroke="#242424" stroke-width="2.85"/>
<text x="1476.93" y="906" text-anchor="middle" font-size="23.47" fill="#3B3B3B">0</text>
<line x1="1616.77" x2="1616.77" y1="875.75" y2="883.08" stroke="#242424" stroke-width="2.85"/>
<text x="1616.77" y="906" text-anchor="middle" font-size="23.47" fill="#3B3B3B">1</text>
<line x1="1756.61" x2="1756.61" y1="875.75" y2="883.08" stroke="#242424" stroke-width="2.85"/>
<text x="1756.61" y="906" text-anchor="middle" font-size="23.47" fill="#3B3B3B">2</text>
<line x1="1896.45" x2="1896.45" y1="875.75" y2="883.08" stroke="#242424" stroke-width="2.85"/>
<text x="1896.45" y="906" text-anchor="middle" font-size="23.47" fill="#3B3B3B">3</text>
<text x="1476.62" y="940" text-anchor="middle" font-size="29.33" fill="#000">residuals</text>
<text transform="translate(995.8 686.17) rotate(-90)" text-anchor="middle" font-size="29.33" fill="#000">df$y</text>
</g>
</svg>
</body></html>
